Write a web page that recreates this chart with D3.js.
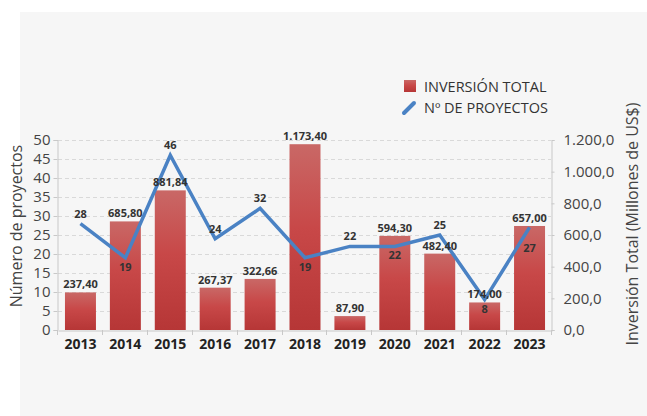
<!DOCTYPE html>
<html><head><meta charset="utf-8">
<script src="https://cdn.jsdelivr.net/npm/d3@7"></script>
<style>body{margin:0;background:#fff}svg{display:block}text{font-family:"Open Sans",sans-serif}</style>
</head><body><svg id="c" width="647" height="416"></svg>
<script>
const years = ["2013","2014","2015","2016","2017","2018","2019","2020","2021","2022","2023"];
const inversion = [237.40,685.80,881.84,267.37,322.66,1173.40,87.90,594.30,482.40,174.00,657.00];
const proyectos = [28,19,46,24,32,19,22,22,25,8,27];
const inversionLabels = ["237,40","685,80","881,84","267,37","322,66","1.173,40","87,90","594,30","482,40","174,00","657,00"];
const proyectoLabelPos = ["above","below","above","above","above","below","above","below","above","below","belowFar"];
const leftTicks = [0,5,10,15,20,25,30,35,40,45,50];
const rightTicks = [0,200,400,600,800,1000,1200];
const rightTickLabels = ["0,0","200,0","400,0","600,0","800,0","1.000,0","1.200,0"];

const labelOffset = {above:-6, below:13, belowFar:25};

const svg = d3.select("#c");
svg.append("rect").attr("x",20).attr("y",12).attr("width",627).attr("height",404).attr("fill","#f6f6f6");

const x = d3.scaleBand().domain(years).range([58,552]).paddingInner(0.31).paddingOuter(0.155);
const xc = d => x(d) + x.bandwidth()/2;
const yL = d3.scaleLinear().domain([0,50]).range([330,140]);
const yR = d3.scaleLinear().domain([0,1200]).range([330,140]);

const defs = svg.append("defs");
const g = defs.append("linearGradient").attr("id","bg").attr("x1",0).attr("y1",0).attr("x2",0).attr("y2",1);
g.append("stop").attr("offset","0%").attr("stop-color","#c96866");
g.append("stop").attr("offset","45%").attr("stop-color","#c84848");
g.append("stop").attr("offset","100%").attr("stop-color","#b63636");

// gridlines
svg.append("g").selectAll("line").data(leftTicks.filter(d=>d>0)).join("line")
  .attr("x1",58).attr("x2",551).attr("y1",d=>yL(d)+0.5).attr("y2",d=>yL(d)+0.5)
  .attr("stroke","#d9d9d9").attr("stroke-dasharray","4,3");

// left axis
const axL = svg.append("g").attr("transform","translate(57.5,0)")
  .call(d3.axisLeft(yL).tickValues(leftTicks).tickSize(4).tickPadding(3));
axL.select(".domain").attr("stroke","#c8c8c8");
axL.selectAll(".tick line").attr("stroke","#c8c8c8");
axL.selectAll("text").attr("font-size",15).attr("fill","#444").attr("font-family","'Open Sans',sans-serif");

// right axis
const axR = svg.append("g").attr("transform","translate(551.5,0)")
  .call(d3.axisRight(yR).tickValues(rightTicks).tickFormat((d,i)=>rightTickLabels[i]).tickSize(3).tickPadding(9));
axR.select(".domain").attr("stroke","#c8c8c8");
axR.selectAll(".tick line").attr("stroke","#c8c8c8");
axR.selectAll("text").attr("font-size",15).attr("fill","#444").attr("font-family","'Open Sans',sans-serif");

// bottom axis
const axB = svg.append("g").attr("transform","translate(0,330.5)")
  .call(d3.axisBottom(x).tickSize(0).tickPadding(9));
axB.select(".domain").attr("stroke","#c8c8c8");
axB.selectAll("text").attr("font-size",14).attr("font-weight","bold").attr("fill","#222").attr("font-family","'Open Sans',sans-serif");
svg.append("g").selectAll("line").data(d3.range(12)).join("line")
  .attr("x1",i=>Math.round(58+i*x.step())-0.5).attr("x2",i=>Math.round(58+i*x.step())-0.5)
  .attr("y1",330).attr("y2",335).attr("stroke","#c8c8c8");

// bars
svg.append("g").selectAll("rect").data(years).join("rect")
  .attr("x",d=>x(d)).attr("width",x.bandwidth())
  .attr("y",(d,i)=>yR(inversion[i])).attr("height",(d,i)=>330-yR(inversion[i]))
  .attr("fill","url(#bg)");

// line
const line = d3.line().x((d,i)=>xc(years[i])).y(d=>yL(d));
svg.append("path").datum(proyectos).attr("d",line).attr("fill","none")
  .attr("stroke","#4a82c4").attr("stroke-width",3.5).attr("stroke-linejoin","miter");

// bar labels
svg.append("g").selectAll("text").data(years).join("text")
  .attr("x",d=>xc(d)).attr("y",(d,i)=>yR(inversion[i])-4)
  .attr("text-anchor","middle").attr("font-size",11).attr("font-weight","bold").attr("fill","#333")
  .text((d,i)=>inversionLabels[i]);

// line labels
svg.append("g").selectAll("text").data(proyectos).join("text")
  .attr("x",(d,i)=>xc(years[i])).attr("y",(d,i)=>yL(d)+labelOffset[proyectoLabelPos[i]])
  .attr("text-anchor","middle").attr("font-size",11).attr("font-weight","bold").attr("fill","#333")
  .text(d=>d);

// axis titles
svg.append("text").attr("transform","translate(22,226) rotate(-90)").attr("text-anchor","middle")
  .attr("font-size",16).attr("fill","#444").text("Número de proyectos");
svg.append("text").attr("transform","translate(638,224) rotate(-90)").attr("text-anchor","middle")
  .attr("font-size",16).attr("fill","#444").text("Inversión Total (Millones de US$)");

// legend
const lg = svg.append("g");
lg.append("rect").attr("x",404).attr("y",80).attr("width",12).attr("height",12).attr("fill","url(#bg)");
lg.append("text").attr("x",424).attr("y",91.5).attr("font-size",14.5).attr("fill","#333").text("INVERSIÓN TOTAL");
lg.append("line").attr("x1",404).attr("y1",113).attr("x2",414).attr("y2",103)
  .attr("stroke","#4a82c4").attr("stroke-width",4).attr("stroke-linecap","round");
lg.append("text").attr("x",424).attr("y",112.5).attr("font-size",14.5).attr("fill","#333").text("Nº DE PROYECTOS");
</script></body></html>
